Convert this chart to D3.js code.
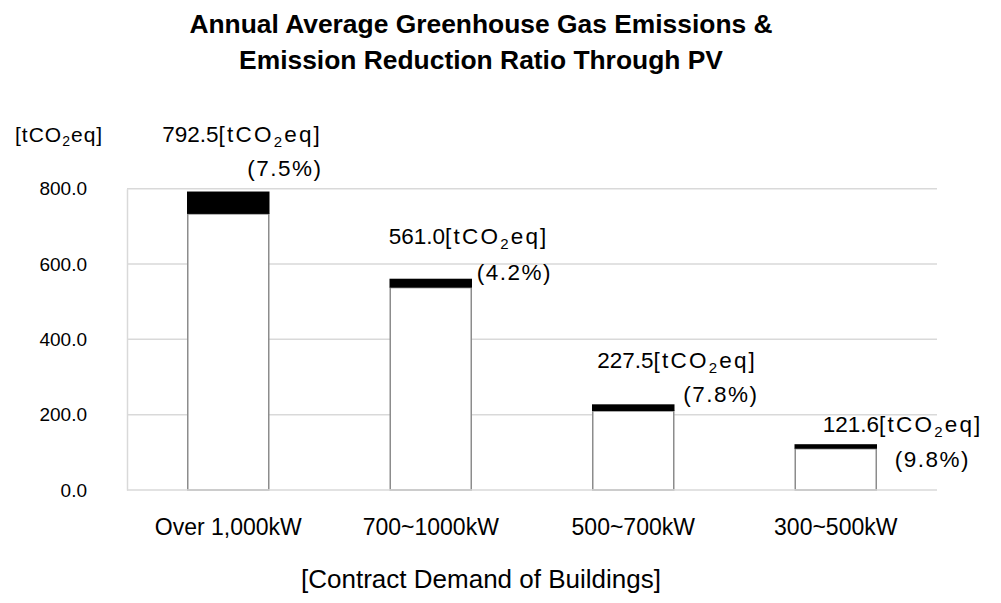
<!DOCTYPE html>
<html>
<head>
<meta charset="utf-8">
<script src="https://cdn.jsdelivr.net/npm/d3@7"></script>
<style>
  html, body { margin: 0; padding: 0; background: #fff; }
  svg { display: block; }
  text { font-family: "Liberation Sans", Arial, sans-serif; fill: #000; }
</style>
</head>
<body>
<svg id="chart" width="1001" height="603"></svg>
<script>
// ---- data ----
const categories = ["Over 1,000kW", "700~1000kW", "500~700kW", "300~500kW"];
const emissions = [792.5, 561.0, 227.5, 121.6];        // tCO2eq
const reductionRatio = [7.5, 4.2, 7.8, 9.8];           // %
const yTicks = [0, 200, 400, 600, 800];
const titleLines = ["Annual Average Greenhouse Gas Emissions &", "Emission Reduction Ratio Through PV"];
const xAxisTitle = "[Contract Demand of Buildings]";

// ---- layout (label placement relative to bar centre / top) ----
const labelLayout = [
  { dx1: -66, dy1: -49.5, dx2: 19, dy2: -15.5 },
  { dx1: -42, dy1: -34.7, dx2: 46, dy2: 1.3 },
  { dx1: -36, dy1: -36.3, dx2: 50, dy2: -2.3 },
  { dx1: -13, dy1: -12.2, dx2: 59, dy2: 22.8 }
];

const svg = d3.select("#chart");
const plot = { left: 127, right: 937, top: 188.7, bottom: 490 };

const x = d3.scaleBand().domain(categories).range([plot.left, plot.right])
  .paddingInner(0.6).paddingOuter(0.3);
const y = d3.scaleLinear().domain([0, 800]).range([plot.bottom, plot.top]);

// title
svg.append("g").selectAll("text").data(titleLines).join("text")
  .attr("x", 481).attr("y", (d, i) => 33 + i * 36)
  .attr("text-anchor", "middle")
  .style("font-weight", "bold").style("font-size", "26.4px")
  .text(d => d);

// gridlines
svg.append("g").selectAll("line").data(yTicks.filter(t => t > 0)).join("line")
  .attr("x1", plot.left).attr("x2", plot.right)
  .attr("y1", d => y(d)).attr("y2", d => y(d))
  .attr("stroke", "#d9d9d9").attr("stroke-width", 1.5);

// y axis
const yAxis = svg.append("g").attr("transform", `translate(${plot.left},0)`)
  .call(d3.axisLeft(y).tickValues(yTicks).tickFormat(d3.format(".1f")).tickSize(0).tickPadding(40));
yAxis.select(".domain").attr("stroke", "#d9d9d9").attr("stroke-width", 1.5);
yAxis.selectAll("text").style("font-size", "19px").attr("fill", "#000")
  .style("font-family", "'Liberation Sans', Arial, sans-serif");

// unit label
const unit = svg.append("text").attr("x", 15).attr("y", 142).style("font-size", "21px")
  .style("letter-spacing", "1px");
unit.append("tspan").text("[tCO");
unit.append("tspan").text("2").style("font-size", "14px").attr("dy", 4);
unit.append("tspan").text("eq]").attr("dy", -4);

// bars
const bars = categories.map((c, i) => ({
  cat: c, total: emissions[i], ratio: reductionRatio[i],
  remain: emissions[i] * (1 - reductionRatio[i] / 100)
}));
const bg = svg.append("g");
bg.selectAll("rect.white").data(bars).join("rect").attr("class", "white")
  .attr("x", d => x(d.cat)).attr("width", x.bandwidth())
  .attr("y", d => y(d.remain)).attr("height", d => y(0) - y(d.remain))
  .attr("fill", "#fff").attr("stroke", "#8c8c8c").attr("stroke-width", 1.5);
bg.selectAll("rect.black").data(bars).join("rect").attr("class", "black")
  .attr("x", d => x(d.cat) - 0.75).attr("width", x.bandwidth() + 1.5)
  .attr("y", d => y(d.total)).attr("height", d => y(d.remain) - y(d.total))
  .attr("fill", "#000");

// x axis baseline
svg.append("line").attr("x1", plot.left).attr("x2", plot.right)
  .attr("y1", y(0)).attr("y2", y(0)).attr("stroke", "#d9d9d9").attr("stroke-width", 1.5);

// category labels
const xAxis = svg.append("g").attr("transform", `translate(0,${plot.bottom})`)
  .call(d3.axisBottom(x).tickSize(0).tickPadding(0));
xAxis.select(".domain").remove();
xAxis.selectAll("text").style("font-size", "23px").attr("fill", "#000")
  .style("font-family", "'Liberation Sans', Arial, sans-serif")
  .attr("dy", null).attr("y", 45);

// value labels
const lg = svg.append("g");
bars.forEach((d, i) => {
  const cx = x(d.cat) + x.bandwidth() / 2, ty = y(d.total), L = labelLayout[i];
  const t1 = lg.append("text").attr("x", cx + L.dx1).attr("y", ty + L.dy1).style("font-size", "22.5px");
  t1.append("tspan").text(d3.format(".1f")(d.total));
  t1.append("tspan").text("[tCO").style("letter-spacing", "2.2px");
  t1.append("tspan").text("2").style("font-size", "15px").attr("dy", 5).style("letter-spacing", "2.2px");
  t1.append("tspan").text("eq]").attr("dy", -5).style("letter-spacing", "2.2px");
  lg.append("text").attr("x", cx + L.dx2).attr("y", ty + L.dy2).style("font-size", "22.5px")
    .style("letter-spacing", "1.5px")
    .text(`(${d3.format(".1f")(d.ratio)}%)`);
});

// x axis title
svg.append("text").attr("x", 481).attr("y", 588).attr("text-anchor", "middle")
  .style("font-size", "26px").text(xAxisTitle);
</script>
</body>
</html>
